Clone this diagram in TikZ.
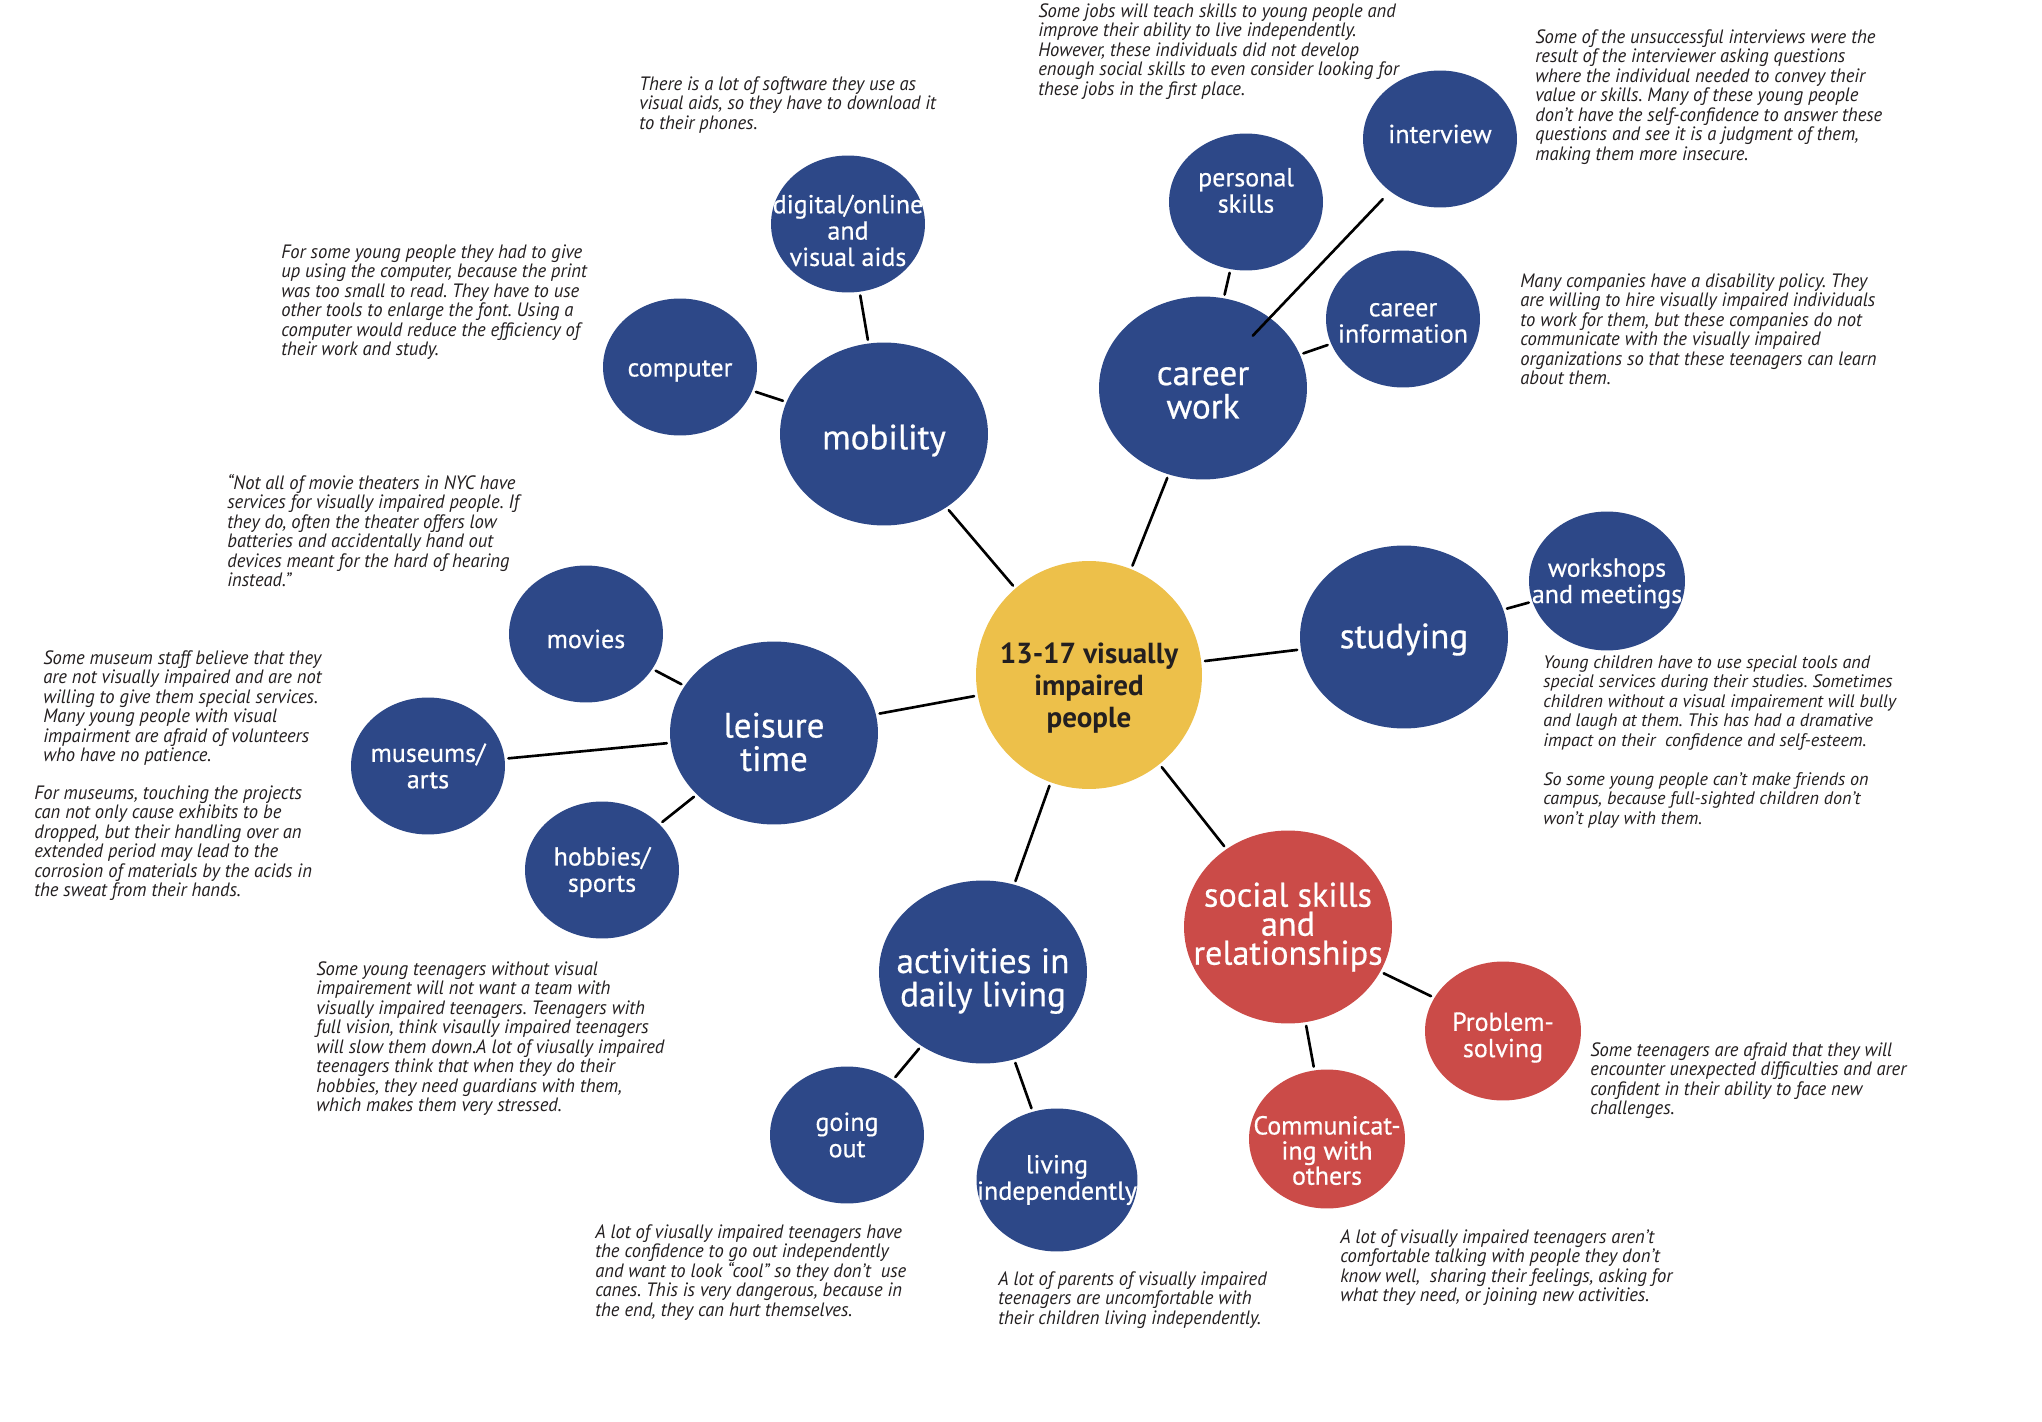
\documentclass[tikz,border=0pt]{standalone}
\usepackage{fontspec}
\setmainfont{PT Sans}
\newfontfamily\notefont[FakeStretch=0.96]{PT Sans}
\newfontfamily\lblfont[FakeBold=0.5]{PT Sans}
\usetikzlibrary{shapes.geometric}
\frenchspacing

\definecolor{vblue}{HTML}{2D4888}
\definecolor{vyellow}{HTML}{EDC04A}
\definecolor{vred}{HTML}{CB4B48}
\definecolor{vink}{HTML}{231F20}

\tikzset{
    bubble/.style={ellipse, inner sep=0pt, fill=vblue},
    bigbubble/.style={bubble, minimum width=4.16cm, minimum height=3.66cm},
    smallbubble/.style={bubble, minimum width=3.08cm, minimum height=2.74cm},
    biglbl/.style={text=white, align=center, font=\lblfont\fontsize{20}{19}\selectfont},
    smalllbl/.style={text=white, align=center, font=\lblfont\fontsize{14.8}{15}\selectfont},
    note/.style={anchor=north west, align=left, inner sep=0pt, text=vink,
        font=\notefont\itshape\fontsize{11}{11.1}\selectfont},
    link/.style={line width=1.5pt, line cap=round, shorten >=2pt, shorten <=2pt},
}

\begin{document}
\begin{tikzpicture}[x=0.02cm, y=-0.02cm]
        \fill[white] (0,0) rectangle (2042,1422);
        \useasboundingbox (0,0) rectangle (2042,1422);

        % hub
        \node[bubble, fill=vyellow, minimum width=4.52cm, minimum height=4.56cm,
            label={[align=center, text=vink, yshift=-0.26cm, font=\bfseries\fontsize{16.5}{18}\selectfont]center:{13-17 visually\\impaired\\people}}]
            (hub) at (1089,675) {};

        % main topics
        \node[bigbubble, label={[biglbl, yshift=-0.13cm]center:mobility}] (mobility) at (884,434) {};
        \node[bigbubble, label={[biglbl, yshift=-0.1cm]center:{career\\work}}] (career) at (1203,388) {};
        \node[bigbubble, label={[biglbl, yshift=-0.05cm]center:studying}] (studying) at (1404,637) {};
        \node[bigbubble, label={[biglbl, yshift=-0.18cm]center:{leisure\\time}}] (leisure) at (774,733) {};
        \node[bigbubble, label={[biglbl, yshift=-0.18cm]center:{activities in\\daily living}}] (activities) at (983,972) {};
        \node[bigbubble, fill=vred, minimum height=3.86cm,
            label={[biglbl, font=\lblfont\fontsize{19.5}{16.5}\selectfont]center:{social skills\\and\\relationships}}] (social) at (1288,927) {};

        % sub topics
        \node[smallbubble, label={[smalllbl, yshift=-0.08cm]center:computer}] (computer) at (680,367) {};
        \node[smallbubble, label={[smalllbl, yshift=-0.13cm]center:{digital/online\\and\\visual aids}}] (digital) at (848,224) {};
        \node[smallbubble, label={[smalllbl, yshift=0.23cm]center:{personal\\skills}}] (personal) at (1246,202) {};
        \node[smallbubble, label={[smalllbl, yshift=0.1cm]center:interview}] (interview) at (1440,139) {};
        \node[smallbubble, label={[smalllbl, yshift=-0.08cm]center:{career\\information}}] (careerinfo) at (1403,319) {};
        \node[smallbubble, minimum width=3.12cm, minimum height=2.78cm,
            label={[smalllbl, yshift=-0.05cm]center:{workshops\\and meetings}}] (workshops) at (1607,581) {};
        \node[smallbubble, label={[smalllbl, yshift=-0.1cm]center:movies}] (movies) at (586,634) {};
        \node[smallbubble, label={[smalllbl]center:{museums/\\arts}}] (museums) at (428,766) {};
        \node[smallbubble, label={[smalllbl, yshift=-0.04cm]center:{hobbies/\\sports}}] (hobbies) at (602,870) {};
        \node[smallbubble, label={[smalllbl]center:{going\\out}}] (goingout) at (847,1135) {};
        \node[smallbubble, minimum width=3.22cm, minimum height=2.86cm,
            label={[smalllbl]center:{living\\independently}}] (living) at (1057,1180) {};
        \node[smallbubble, fill=vred, minimum width=3.12cm, minimum height=2.78cm,
            label={[smalllbl, yshift=-0.13cm]center:{Problem-\\solving}}] (problem) at (1503,1031) {};
        \node[smallbubble, fill=vred, minimum width=3.12cm, minimum height=2.78cm,
            label={[smalllbl, yshift=-0.23cm, font=\lblfont\fontsize{14.8}{14.3}\selectfont]center:{Communicat-\\ing with\\others}}] (communicating) at (1327,1139) {};

        \foreach \a/\b in {hub/mobility, hub/career, hub/studying, hub/social,
            hub/activities, hub/leisure, mobility/computer, mobility/digital,
            career/personal, career/careerinfo, studying/workshops,
            leisure/movies, leisure/museums, leisure/hobbies,
            activities/goingout, activities/living,
            social/problem, social/communicating}{
            \draw[link] (\a) -- (\b);
        }
        % interview line runs into the career bubble
        \draw[link, shorten <=-0.5cm, shorten >=6pt] (career) -- (interview);

        % notes
        \node[note] (n-career) at (1038,3) {Some jobs will teach skills to young people and\\
            improve their ability to live independently.\\
            However, these individuals did not develop\\
            enough social skills to even consider looking for\\
            these jobs in the first place.};
        \node[note] (n-interview) at (1535,29) {Some of the unsuccessful interviews were the\\
            result of the interviewer asking questions\\
            where the individual needed to convey their\\
            value or skills. Many of these young people\\
            don’t have the self-confidence to answer these\\
            questions and see it is a judgment of them,\\
            making them more insecure.};
        \node[note] (n-careerinfo) at (1520,273) {Many companies have a disability policy. They\\
            are willing to hire visually impaired individuals\\
            to work for them, but these companies do not\\
            communicate with the visually impaired\\
            organizations so that these teenagers can learn\\
            about them.};
        \node[note] (n-digital) at (639,76) {There is a lot of software they use as\\
            visual aids, so they have to download it\\
            to their phones.};
        \node[note] (n-computer) at (281,244) {For some young people they had to give\\
            up using the computer, because the print\\
            was too small to read. They have to use\\
            other tools to enlarge the font. Using a\\
            computer would reduce the efficiency of\\
            their work and study.};
        \node[note] (n-movies) at (227,474) {“Not all of movie theaters in NYC have\\
            services for visually impaired people. If\\
            they do, often the theater offers low\\
            batteries and accidentally hand out\\
            devices meant for the hard of hearing\\
            instead.”};
        \node[note] (n-museums) at (43,650) {Some museum staff believe that they\\
            are not visually impaired and are not\\
            willing to give them special services.\\
            Many young people with visual\\
            impairment are afraid of volunteers\\
            who have no patience.};
        \node[note] (n-museums2) at (34,785) {For museums, touching the projects\\
            can not only cause exhibits to be\\
            dropped, but their handling over an\\
            extended period may lead to the\\
            corrosion of materials by the acids in\\
            the sweat from their hands.};
        \node[note] (n-hobbies) at (316,961) {Some young teenagers without visual\\
            impairement will not want a team with\\
            visually impaired teenagers. Teenagers with\\
            full vision, think visaully impaired teenagers\\
            will slow them down.A lot of viusally impaired\\
            teenagers think that when they do their\\
            hobbies, they need guardians with them,\\
            which makes them very stressed.};
        \node[note] (n-goingout) at (595,1224) {A lot of viusally impaired teenagers have\\
            the confidence to go out independently\\
            and want to look “cool” so they don’t~ use\\
            canes. This is very dangerous, because in\\
            the end, they can hurt themselves.};
        \node[note] (n-living) at (998,1271) {A lot of parents of visually impaired\\
            teenagers are uncomfortable with\\
            their children living independently.};
        \node[note] (n-communicating) at (1340,1229) {A lot of visually impaired teenagers aren’t\\
            comfortable talking with people they don’t\\
            know well,~ sharing their feelings, asking for\\
            what they need, or joining new activities.};
        \node[note] (n-problem) at (1590,1042) {Some teenagers are afraid that they will\\
            encounter unexpected difficulties and arer\\
            confident in their ability to face new\\
            challenges.};
        \node[note, font=\itshape\fontsize{10.3}{11.1}\selectfont] (n-studying) at (1543,655) {Young children have to use special tools and\\
            special services during their studies. Sometimes\\
            children without a visual impairement will bully\\
            and laugh at them. This has had a dramative\\
            impact on their~ confidence and self-esteem.\\[11.1pt]
            So some young people can't make friends on\\
            campus, because full-sighted children don't\\
            won’t play with them.};
\end{tikzpicture}
\end{document}
